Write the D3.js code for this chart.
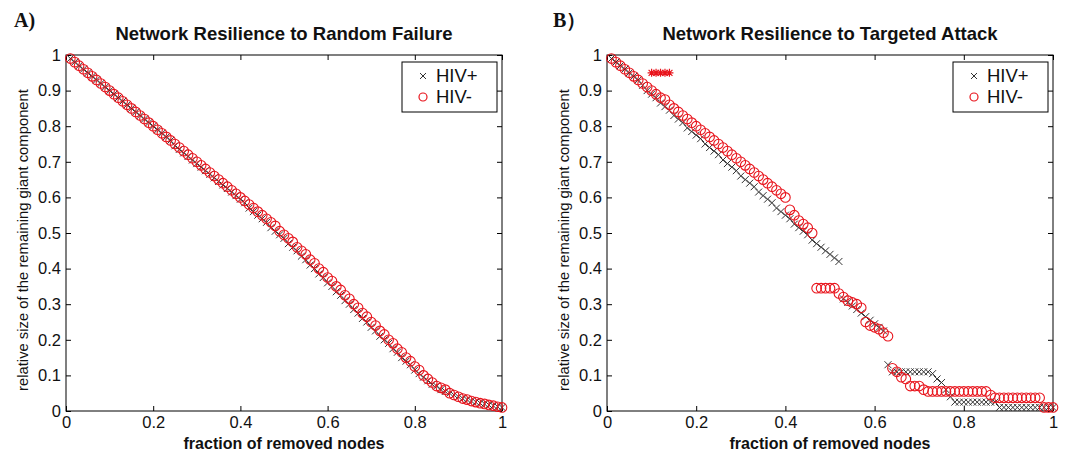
<!DOCTYPE html>
<html>
<head>
<meta charset="utf-8">
<script src="https://cdn.jsdelivr.net/npm/d3@7"></script>
<style>
  body { margin: 0; background: #fff; }
  svg { display: block; }
  text { font-family: Arial, "Liberation Sans", sans-serif; fill: #111; }
</style>
</head>
<body>
<div id="chart"></div>
<script>
// x grid: fraction of removed nodes
var fractions = [
  0.01,0.02,0.03,0.04,0.05,0.06,0.07,0.08,0.09,0.10,
  0.11,0.12,0.13,0.14,0.15,0.16,0.17,0.18,0.19,0.20,
  0.21,0.22,0.23,0.24,0.25,0.26,0.27,0.28,0.29,0.30,
  0.31,0.32,0.33,0.34,0.35,0.36,0.37,0.38,0.39,0.40,
  0.41,0.42,0.43,0.44,0.45,0.46,0.47,0.48,0.49,0.50,
  0.51,0.52,0.53,0.54,0.55,0.56,0.57,0.58,0.59,0.60,
  0.61,0.62,0.63,0.64,0.65,0.66,0.67,0.68,0.69,0.70,
  0.71,0.72,0.73,0.74,0.75,0.76,0.77,0.78,0.79,0.80,
  0.81,0.82,0.83,0.84,0.85,0.86,0.87,0.88,0.89,0.90,
  0.91,0.92,0.93,0.94,0.95,0.96,0.97,0.98,0.99,1.00
];

// panel A: random failure
var randomPos = [
  0.99,0.98,0.97,0.96,0.95,0.94,0.93,0.92,0.91,0.90,
  0.89,0.88,0.87,0.86,0.85,0.84,0.83,0.82,0.81,0.80,
  0.79,0.78,0.77,0.76,0.745,0.735,0.725,0.715,0.705,0.695,
  0.685,0.675,0.665,0.655,0.645,0.635,0.625,0.615,0.605,0.595,
  0.585,0.57,0.56,0.55,0.54,0.53,0.515,0.505,0.495,0.485,
  0.47,0.46,0.45,0.435,0.425,0.41,0.40,0.385,0.375,0.36,
  0.35,0.335,0.325,0.31,0.30,0.285,0.275,0.26,0.25,0.235,
  0.225,0.21,0.20,0.19,0.175,0.165,0.15,0.14,0.13,0.115,
  0.105,0.095,0.085,0.075,0.07,0.06,0.055,0.05,0.045,0.04,
  0.035,0.032,0.028,0.025,0.022,0.02,0.017,0.015,0.012,0.01
];
var randomNeg = [
  0.99,0.98,0.97,0.96,0.95,0.94,0.93,0.92,0.91,0.90,
  0.89,0.88,0.87,0.86,0.85,0.84,0.83,0.82,0.81,0.80,
  0.79,0.78,0.77,0.76,0.75,0.74,0.73,0.72,0.71,0.70,
  0.69,0.68,0.67,0.66,0.65,0.64,0.63,0.62,0.61,0.60,
  0.59,0.58,0.57,0.56,0.55,0.54,0.53,0.52,0.505,0.495,
  0.485,0.475,0.46,0.45,0.44,0.425,0.415,0.40,0.39,0.375,
  0.365,0.35,0.34,0.325,0.315,0.30,0.29,0.275,0.265,0.25,
  0.24,0.225,0.215,0.20,0.19,0.175,0.165,0.15,0.14,0.125,
  0.115,0.10,0.09,0.08,0.07,0.065,0.06,0.05,0.045,0.04,
  0.035,0.032,0.028,0.025,0.022,0.02,0.017,0.015,0.012,0.01
];

// panel B: targeted attack
var targetPos = [
  0.99,0.98,0.97,0.96,0.95,0.94,0.93,0.915,0.90,0.89,
  0.88,0.865,0.855,0.845,0.83,0.82,0.81,0.795,0.785,0.775,
  0.765,0.75,0.74,0.73,0.72,0.705,0.695,0.685,0.675,0.66,
  0.65,0.64,0.63,0.615,0.605,0.595,0.585,0.57,0.56,0.55,
  0.54,0.525,0.515,0.505,0.495,0.48,0.47,0.46,0.45,0.44,
  0.43,0.42,0.315,0.305,0.295,0.285,0.275,0.265,0.255,0.245,
  0.235,0.225,0.13,0.11,0.11,0.11,0.11,0.11,0.11,0.11,
  0.11,0.11,0.105,0.09,0.08,0.06,0.04,0.025,0.025,0.025,
  0.025,0.025,0.025,0.025,0.025,0.025,0.025,0.01,0.01,0.01,
  0.01,0.01,0.01,0.01,0.01,0.01,0.01,0.01,0.01,0.01
];
var targetNeg = [
  0.99,0.98,0.97,0.96,0.95,0.94,0.93,0.92,0.91,0.90,
  0.89,0.88,0.875,0.86,0.85,0.84,0.83,0.82,0.81,0.80,
  0.79,0.78,0.77,0.76,0.75,0.74,0.73,0.72,0.71,0.70,
  0.69,0.68,0.67,0.66,0.65,0.64,0.63,0.62,0.61,0.60,
  0.565,0.55,0.535,0.525,0.515,0.50,0.345,0.345,0.345,0.345,
  0.345,0.33,0.32,0.31,0.305,0.30,0.29,0.25,0.24,0.235,
  0.23,0.22,0.21,0.12,0.11,0.095,0.09,0.07,0.07,0.07,
  0.06,0.055,0.055,0.055,0.055,0.055,0.055,0.055,0.055,0.055,
  0.055,0.055,0.055,0.055,0.055,0.045,0.037,0.037,0.037,0.037,
  0.037,0.037,0.037,0.037,0.037,0.037,0.037,0.01,0.01,0.01
];
var starX = [0.10, 0.11, 0.12, 0.13, 0.14];
var starY = [0.95, 0.95, 0.95, 0.95, 0.95];

var xTicks = [0, 0.2, 0.4, 0.6, 0.8, 1];
var xTickLabels = ['0', '0.2', '0.4', '0.6', '0.8', '1'];
var yTicks = [0, 0.1, 0.2, 0.3, 0.4, 0.5, 0.6, 0.7, 0.8, 0.9, 1];
var yTickLabels = ['0', '0.1', '0.2', '0.3', '0.4', '0.5', '0.6', '0.7', '0.8', '0.9', '1'];
var seriesNames = ['HIV+', 'HIV-'];

var width = 1072, height = 455;
var plotTop = 55, plotBottom = 411;

var svg = d3.select('#chart').append('svg')
  .attr('width', width)
  .attr('height', height);

var crossPath = 'M-3.5,-3.5L3.5,3.5M-3.5,3.5L3.5,-3.5';
var starPath = 'M-4,0L4,0M0,-4L0,4M-3,-3L3,3M-3,3L3,-3';

var drawPanel = function (opt) {
  var x = d3.scaleLinear().domain([0, 1]).range([opt.left, opt.right]);
  var y = d3.scaleLinear().domain([0, 1]).range([plotBottom, plotTop]);
  var g = svg.append('g');

  // frame
  g.append('rect')
    .attr('x', opt.left).attr('y', plotTop)
    .attr('width', opt.right - opt.left).attr('height', plotBottom - plotTop)
    .attr('fill', 'none').attr('stroke', '#000').attr('stroke-width', 1);

  var styleAxis = function (a) {
    a.select('.domain').remove();
    a.selectAll('line').attr('stroke', '#000');
    a.selectAll('text').style('font-size', '16.5px').attr('fill', '#111');
  };

  g.append('g').attr('transform', 'translate(0,' + plotBottom + ')')
    .call(d3.axisBottom(x).tickValues(xTicks).tickSize(-5).tickPadding(5)
      .tickFormat(function (d, i) { return xTickLabels[i]; }))
    .call(styleAxis);
  g.append('g').attr('transform', 'translate(0,' + plotTop + ')')
    .call(d3.axisTop(x).tickValues(xTicks).tickSize(-5).tickFormat(''))
    .call(styleAxis);
  g.append('g').attr('transform', 'translate(' + opt.left + ',0)')
    .call(d3.axisLeft(y).tickValues(yTicks).tickSize(-5).tickPadding(5)
      .tickFormat(function (d, i) { return yTickLabels[i]; }))
    .call(styleAxis);
  g.append('g').attr('transform', 'translate(' + opt.right + ',0)')
    .call(d3.axisRight(y).tickValues(yTicks).tickSize(-5).tickFormat(''))
    .call(styleAxis);

  // titles and labels
  var cx = (opt.left + opt.right) / 2;
  g.append('text').attr('x', cx).attr('y', 40)
    .attr('text-anchor', 'middle')
    .style('font-size', '18.5px').style('font-weight', 'bold')
    .text(opt.title);
  g.append('text').attr('x', opt.tagX).attr('y', 27)
    .style('font-family', '"Liberation Serif", "Times New Roman", serif')
    .style('font-size', '20px').style('font-weight', 'bold')
    .text(opt.tag);
  g.append('text').attr('x', cx).attr('y', 449)
    .attr('text-anchor', 'middle')
    .style('font-size', '16px').style('font-weight', 'bold')
    .text('fraction of removed nodes');
  g.append('text')
    .attr('transform', 'translate(' + (opt.left - 38) + ',' + 240 + ') rotate(-90)')
    .attr('text-anchor', 'middle')
    .style('font-size', '14.8px')
    .text('relative size of the remaining giant component');

  var pos = fractions.map(function (f, i) { return { x: f, y: opt.pos[i] }; });
  var neg = fractions.map(function (f, i) { return { x: f, y: opt.neg[i] }; });

  g.append('g').selectAll('path')
    .data(pos)
    .enter()
    .append('path')
    .attr('d', crossPath)
    .attr('transform', function (d) { return 'translate(' + x(d.x) + ',' + y(d.y) + ')'; })
    .attr('stroke', '#333').attr('stroke-width', 1).attr('fill', 'none');

  g.append('g').selectAll('circle')
    .data(neg)
    .enter()
    .append('circle')
    .attr('cx', function (d) { return x(d.x); })
    .attr('cy', function (d) { return y(d.y); })
    .attr('r', 4.8)
    .attr('fill', 'none').attr('stroke', '#e8141c').attr('stroke-width', 1.1);

  if (opt.stars) {
    g.append('g').selectAll('path')
      .data(starX)
      .enter()
      .append('path')
      .attr('d', starPath)
      .attr('transform', function (d, i) { return 'translate(' + x(d) + ',' + y(starY[i]) + ')'; })
      .attr('stroke', '#e8141c').attr('stroke-width', 1.2);
  }

  // legend
  var lx = opt.right - 100, ly = 62;
  var lg = g.append('g');
  lg.append('rect').attr('x', lx).attr('y', ly).attr('width', 95).attr('height', 50)
    .attr('fill', '#fff').attr('stroke', '#000').attr('stroke-width', 1);
  lg.append('path').attr('d', 'M-3,-3L3,3M-3,3L3,-3')
    .attr('transform', 'translate(' + (lx + 21) + ',' + (ly + 14) + ')')
    .attr('stroke', '#333').attr('stroke-width', 1);
  lg.append('circle').attr('cx', lx + 21).attr('cy', ly + 35).attr('r', 4)
    .attr('fill', 'none').attr('stroke', '#e8141c').attr('stroke-width', 1.2);
  lg.selectAll('text.leg')
    .data(seriesNames)
    .enter()
    .append('text')
    .attr('class', 'leg')
    .attr('x', lx + 34)
    .attr('y', function (d, i) { return ly + 20 + i * 21; })
    .style('font-size', '18.5px')
    .text(function (d) { return d; });
};

drawPanel({
  left: 66, right: 502, title: 'Network Resilience to Random Failure',
  tag: 'A)', tagX: 14, pos: randomPos, neg: randomNeg, stars: false
});
drawPanel({
  left: 607, right: 1053, title: 'Network Resilience to Targeted Attack',
  tag: 'B）', tagX: 553, pos: targetPos, neg: targetNeg, stars: true
});
</script>
</body>
</html>
